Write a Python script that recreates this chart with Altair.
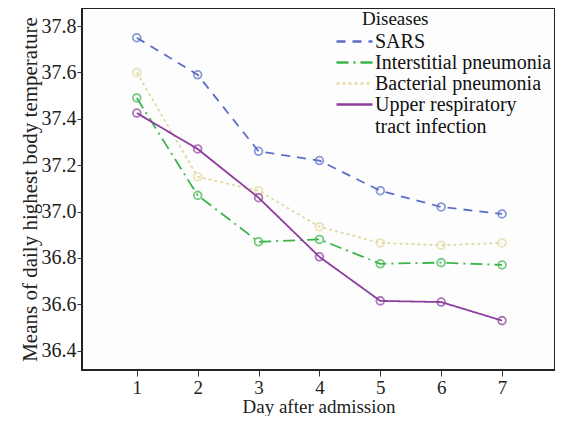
import altair as alt
import pandas as pd

days = [1, 2, 3, 4, 5, 6, 7]
sars = [37.75, 37.59, 37.26, 37.22, 37.09, 37.02, 36.99]
interstitial = [37.49, 37.07, 36.87, 36.88, 36.775, 36.78, 36.77]
bacterial = [37.60, 37.15, 37.09, 36.935, 36.865, 36.855, 36.865]
upper = [37.425, 37.27, 37.06, 36.805, 36.615, 36.61, 36.53]

names = ["SARS", "Interstitial pneumonia", "Bacterial pneumonia",
         "Upper respiratory tract infection"]
colors = ["#5b6ec6", "#3bb54a", "#e2d9a2", "#8c3d9e"]
dashes = [[9, 7], [12, 5, 2, 5], [3, 3], [1, 0]]

rows = []
for name, vals in zip(names, [sars, interstitial, bacterial, upper]):
    for d, v in zip(days, vals):
        rows.append({"Day": d, "Temp": v, "Disease": name})
df = pd.DataFrame(rows)
legend_title = pd.DataFrame({"t": ["Diseases"]})

font = "Liberation Serif"

x = alt.X("Day:Q", title="Day after admission",
          scale=alt.Scale(domain=[0.1, 7.87], nice=False, zero=False),
          axis=alt.Axis(values=days, format="d", grid=False, labelFontSize=19,
                        titleFontSize=19, labelFont=font, titleFont=font,
                        titleFontWeight="normal",
                        labelColor="#222", titleColor="#222", tickColor="#333",
                        domain=False, tickSize=6, labelPadding=2, titlePadding=0))
y = alt.Y("Temp:Q", title="Means of daily highest body temperature",
          scale=alt.Scale(domain=[36.317, 37.878], nice=False, zero=False),
          axis=alt.Axis(values=[36.4, 36.6, 36.8, 37.0, 37.2, 37.4, 37.6, 37.8],
                        format=".1f", grid=False, labelFontSize=20,
                        titleFontSize=21, labelFont=font, titleFont=font,
                        titleFontWeight="normal",
                        labelColor="#222", titleColor="#222", tickColor="#333",
                        domain=False, tickSize=5, labelPadding=1, titlePadding=1))

color = alt.Color("Disease:N", scale=alt.Scale(domain=names, range=colors),
                  title=None,
                  legend=alt.Legend(
                      orient="none", legendX=262, legendY=23,
                      symbolType="M -2 0 L 2 0", symbolStrokeWidth=2.5, symbolSize=324,
                      labelFont=font, labelFontSize=20,
                      labelColor="#111",
                      rowPadding=-7, labelOffset=10,
                      labelLimit=300,
                      labelExpr="datum.label == 'Upper respiratory tract infection' ? ['Upper respiratory', 'tract infection'] : datum.label"))
dash = alt.StrokeDash("Disease:N", scale=alt.Scale(domain=names, range=dashes),
                      legend=None)

base = alt.Chart(df)
lines = base.mark_line(strokeWidth=1.8).encode(x=x, y=y, color=color, strokeDash=dash)
pts = base.mark_point(shape="circle", filled=False, size=60, strokeWidth=1.8).encode(
    x="Day:Q", y="Temp:Q",
    color=alt.Color("Disease:N", scale=alt.Scale(domain=names, range=colors), legend=None))
ltitle = alt.Chart(legend_title).mark_text(
    font=font, fontSize=19, align="left", baseline="top", color="#111"
).encode(x=alt.value(280), y=alt.value(2), text="t:N")

chart = (lines + pts + ltitle).properties(
    width=473, height=362,
    autosize=alt.AutoSizeParams(type="none"),
    padding={"left": 74, "top": 0, "right": 0, "bottom": 46},
    background="white",
).configure(font=font).configure_view(stroke="#222", strokeWidth=2, fill="#fdfdfd")

chart.save("out.html", embed_options={"renderer": "svg", "actions": False})
